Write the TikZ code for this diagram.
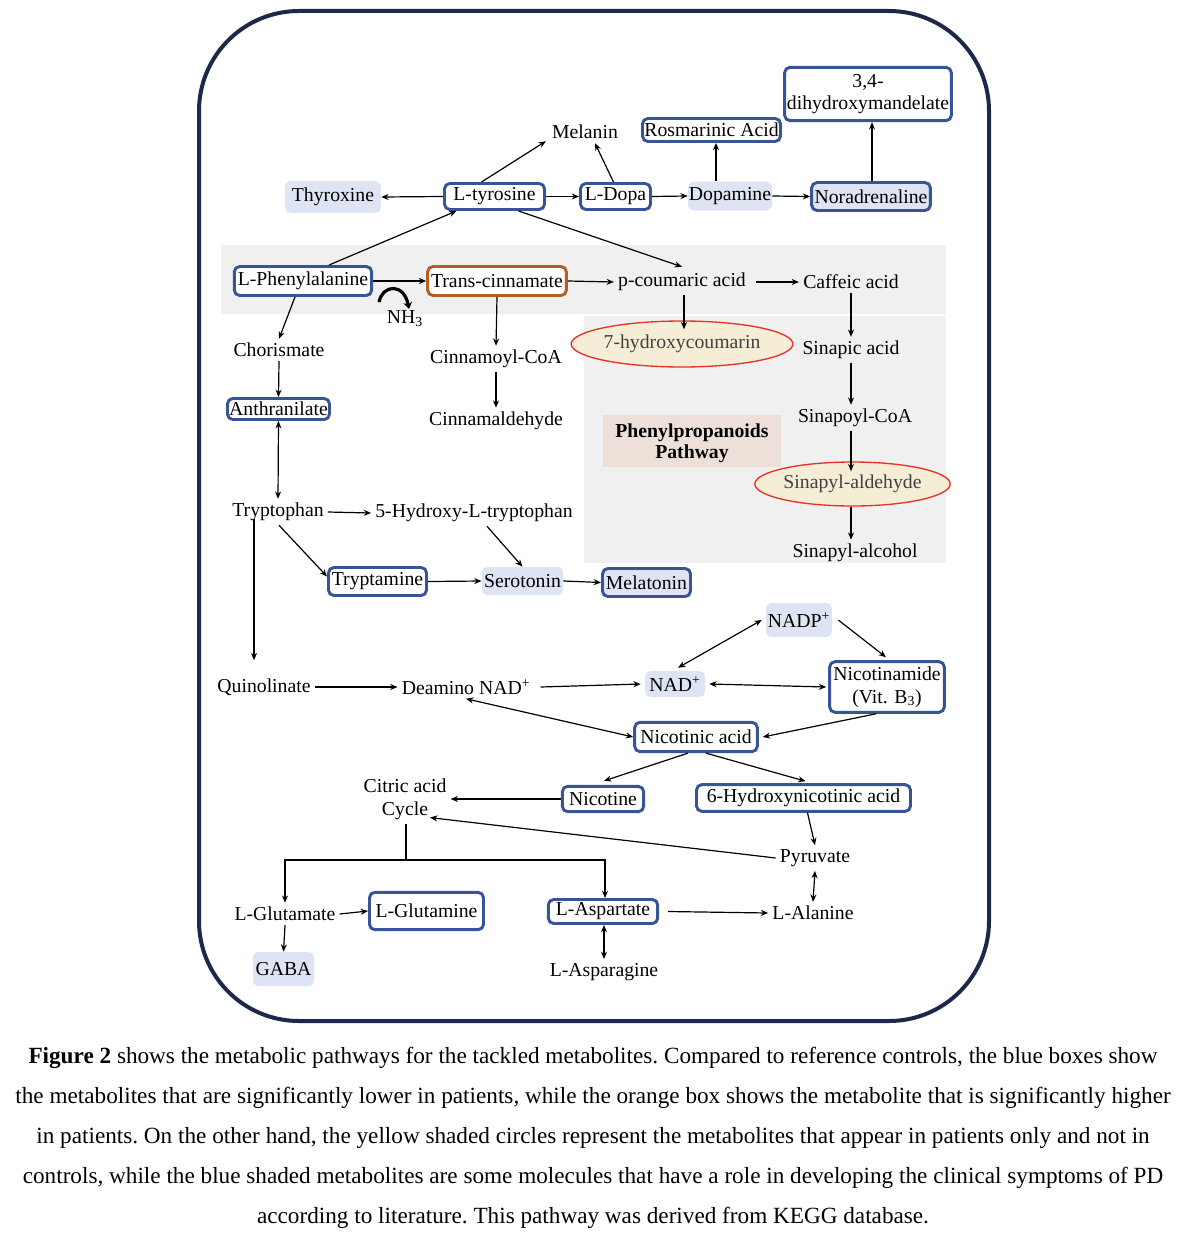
\documentclass[tikz,border=0pt]{standalone}
\usepackage{fontspec}
\setmainfont{Liberation Serif}
\usetikzlibrary{arrows.meta,shapes.geometric,calc}
\definecolor{boxblue}{RGB}{55,85,150}
\definecolor{shade}{RGB}{222,228,243}
\definecolor{orangec}{RGB}{184,92,38}
\definecolor{redc}{RGB}{230,50,40}
\definecolor{ellfill}{RGB}{245,237,214}
\definecolor{greyp}{RGB}{240,240,240}
\definecolor{tanc}{RGB}{237,224,216}
\definecolor{navy}{RGB}{30,40,75}
\newcommand\diafont{\fontsize{14.8}{17}\selectfont}
\newcommand\capfont{\fontsize{17.4}{20}\selectfont\frenchspacing}
\tikzset{
 txt/.style={font=\diafont, inner sep=3pt},
 bbox/.style={draw=boxblue, line width=2.2pt, rounded corners=4pt, fill=white, inner sep=0pt, font=\diafont},
 sbox/.style={fill=shade, rounded corners=4pt, inner sep=0pt, font=\diafont},
 bsbox/.style={bbox, fill=shade},
 obox/.style={bbox, draw=orangec},
 ell/.style={ellipse, draw=redc, line width=1pt, fill=ellfill, inner sep=0pt, font=\diafont, text=black!75},
 arr/.style={-{Stealth[length=5.5pt,width=4.5pt]}, line width=0.9pt},
 darr/.style={{Stealth[length=5.5pt,width=4.5pt]}-{Stealth[length=5.5pt,width=4.5pt]}, line width=0.9pt},
 capline/.style={font=\capfont, anchor=base, inner sep=0pt},
}
\begin{document}
\begin{tikzpicture}[x=0.75pt,y=-0.75pt]
\useasboundingbox (0,0) rectangle (1182,1238);
% frame
\draw[line width=3pt, draw=navy, rounded corners=75pt] (199,11) rectangle (989,1021);
% panels
\fill[greyp] (221,245) rectangle (946,314);
\fill[greyp] (584,316) rectangle (946,563);
\fill[tanc] (603,415) rectangle (781,467);
\node[font=\diafont\bfseries, align=center, inner sep=0pt] (ppp) at (692,443) {Phenylpropanoids\\[-1pt]Pathway};

% top row
\node[txt] (mel) at (585,132) {Melanin};
\node[bbox, minimum width=103.5pt, minimum height=17.25pt] (ros) at (711.5,130) {Rosmarinic Acid};
\node[bbox, minimum width=125pt, minimum height=40pt, align=center] (mand) at (868,94) {3,4-\\dihydroxymandelate};
\node[sbox, minimum width=72pt, minimum height=24pt] (thy) at (333,197) {Thyroxine};
\node[bbox, minimum width=75pt, minimum height=19.5pt] (tyr) at (494.5,196.5) {L-tyrosine};
\node[bbox, minimum width=52.5pt, minimum height=19.5pt] (dopa) at (615.5,196.5) {L-Dopa};
\node[sbox, minimum width=63pt, minimum height=21.75pt] (dopam) at (730,196) {Dopamine};
\node[bsbox, minimum width=89pt, minimum height=21pt] (nor) at (871,196.5) {Noradrenaline};

% phenylpropanoid band
\node[bbox, minimum width=103pt, minimum height=21.75pt] (phe) at (303,281) {L-Phenylalanine};
\node[obox, minimum width=104pt, minimum height=21.75pt] (tcin) at (497,281) {Trans-cinnamate};
\node[txt] (pcou) at (682,282) {p-coumaric acid};
\node[txt] (caf) at (851,282) {Caffeic acid};
\node[txt] (nh) at (405,319) {NH\textsubscript{3}};
\node[txt] (chor) at (279,350) {Chorismate};
\node[txt] (cinco) at (496,359) {Cinnamoyl-CoA};
\node[ell, minimum width=141pt, minimum height=34.5pt] (hyd) at (682,344) {7-hydroxycoumarin};
\node[txt] (sinap) at (851,350) {Sinapic acid};
\node[bbox, minimum width=76.5pt, minimum height=15.75pt] (anth) at (278.5,409) {Anthranilate};
\node[txt] (cinal) at (496,421) {Cinnamaldehyde};
\node[txt] (sinco) at (855,418) {Sinapoyl-CoA};
\node[ell, minimum width=142pt, minimum height=33pt] (sald) at (852.5,484) {Sinapyl-aldehyde};
\node[txt] (salc) at (855,553) {Sinapyl-alcohol};

% tryptophan
\node[txt] (trp) at (278,512) {Tryptophan};
\node[txt] (hyt) at (474,513) {5-Hydroxy-L-tryptophan};
\node[bbox, minimum width=73.5pt, minimum height=21pt] (tryp) at (377.5,581.5) {Tryptamine};
\node[sbox, minimum width=61pt, minimum height=21pt] (ser) at (522.5,581) {Serotonin};
\node[bsbox, minimum width=66pt, minimum height=21pt] (mlt) at (646.5,582.5) {Melatonin};

% NAD
\node[sbox, minimum width=49.5pt, minimum height=25.5pt] (nadp) at (799,620) {NADP\textsuperscript{+}};
\node[txt] (quin) at (264,687) {Quinolinate};
\node[txt] (dnad) at (466,687) {Deamino NAD\textsuperscript{+}};
\node[sbox, minimum width=45pt, minimum height=19.5pt] (nad) at (675,684) {NAD\textsuperscript{+}};
\node[bbox, minimum width=86pt, minimum height=38pt, align=center] (nic) at (887,687) {Nicotinamide\\(Vit. B\textsubscript{3})};
\node[bbox, minimum width=92pt, minimum height=22pt] (nac) at (696,737) {Nicotinic acid};
\node[txt, align=center] (cac) at (405,799) {Citric acid\\Cycle};
\node[bbox, minimum width=61pt, minimum height=19pt] (nicot) at (603,799) {Nicotine};
\node[bbox, minimum width=160.5pt, minimum height=20pt] (hnic) at (803.5,798) {6-Hydroxynicotinic acid};
\node[txt] (pyr) at (815,858) {Pyruvate};
\node[txt] (glu) at (285,914) {L-Glutamate};
\node[bbox, minimum width=85.5pt, minimum height=28pt] (gln) at (426.5,911) {L-Glutamine};
\node[bbox, minimum width=82pt, minimum height=18pt] (asp) at (603,911.5) {L-Aspartate};
\node[txt] (ala) at (813,913) {L-Alanine};
\node[sbox, minimum width=46pt, minimum height=25.5pt] (gaba) at (283.5,969) {GABA};
\node[txt] (aspn) at (604,972) {L-Asparagine};

% connectors top
\draw[arr] (tyr.west) -- (thy.east);
\draw[arr] (tyr.east) -- (dopa.west);
\draw[arr] ($(tyr.north)+(-13,0)$) -- ($(mel.south west)+(-2,-2)$);
\draw[arr] ($(dopa.north)+(-2,0)$) -- ($(mel.south)+(10,0)$);
\draw[arr] (dopa.east) -- (dopam.west);
\draw[arr] (dopam.east) -- (nor.west);
\draw[arr] ($(dopam.north)+(-14,0)$) -- ($(ros.south)+(4.5,0)$);
\draw[arr] ($(nor.north)+(1,0)$) -- ($(mand.south)+(4,0)$);
\draw[arr] ($(phe.north)+(26,0)$) -- ($(tyr.south)+(-38,0)$);
\draw[arr] ($(tyr.south)+(24,0)$) -- ($(pcou.north)+(0,-2)$);
% band
\draw[arr] (phe.east) -- (tcin.west);
\draw[arr] (tcin.east) -- (pcou.west);
\draw[arr] ($(pcou.east)+(6,0)$) -- (caf.west);
\coordinate (nhA) at (379,302);
\coordinate (nhB) at (409,309);
\draw[line width=2.4pt, -{Stealth[length=5pt,width=6.5pt]}] (nhA) .. controls (383,284) and (404,283) .. (nhB);
\draw[arr] ($(phe.south)+(-8,0)$) -- (chor.north);
\draw[arr] (tcin.south) -- (cinco.north);
\draw[arr] (cinco.south) -- (cinal.north);
\draw[arr] ($(pcou.south)+(2,0)$) -- ($(hyd.north)+(2,9)$);
\draw[arr] (caf.south) -- (sinap.north);
\draw[arr] (sinap.south) -- ($(sinco.north)+(-4,0)$);
\draw[arr] ($(sinco.south)+(-4,0)$) -- ($(sald.north)+(-1.5,10)$);
\draw[arr] ($(sald.south)+(-1.5,0)$) -- ($(salc.north)+(-4,0)$);
\draw[arr] (chor.south) -- (anth.north);
\draw[darr] (anth.south) -- (trp.north);
% tryptophan
\draw[arr] (trp.east) -- (hyt.west);
\draw[arr] ($(hyt.south)+(13,0)$) -- (ser.north);
\draw[arr] ($(trp.south)+(1,0)$) -- ($(tryp.west)+(0,-5)$);
\draw[arr] (tryp.east) -- (ser.west);
\draw[arr] (ser.east) -- (mlt.west);
\draw[arr] ($(trp.south)+(-24,-6)$) -- ($(quin.north)+(-10,-14)$);
% NAD
\draw[arr] (quin.east) -- (dnad.west);
\draw[arr] ($(dnad.east)+(6,0)$) -- ($(nad.west)+(-4,0)$);
\draw[darr] ($(nad.north)+(3,-3)$) -- ($(nadp.west)+(-4,0)$);
\draw[arr] ($(nadp.east)+(6,0)$) -- ($(nic.north)+(-1,-3)$);
\draw[darr] ($(nad.east)+(4,0)$) -- ($(nic.west)+(-2,0)$);
\draw[arr] ($(nic.south)+(-11,0)$) -- ($(nac.east)+(4,0)$);
\draw[darr] (dnad.south) -- (nac.west);
\draw[arr] ($(nac.south)+(-8,0)$) -- ($(nicot.north)+(1,-4)$);
\draw[arr] ($(nac.south)+(10,0)$) -- ($(hnic.north)+(2,-2)$);
\draw[arr] (nicot.west) -- (cac.east);
\draw[arr] ($(hnic.south)+(4,0)$) -- (pyr.north);
\draw[arr] (pyr.west) -- ($(cac.south)+(25,-6)$);
\coordinate (split) at (406,860);
\draw[line width=0.9pt] ($(cac.south)+(1,0)$) -- (split);
\draw[arr] (split) -| (glu.north);
\draw[arr] (split) -| ($(asp.north)+(2,0)$);
\draw[arr] (glu.east) -- (gln.west);
\draw[arr] (glu.south) -- (gaba.north);
\draw[darr] ($(asp.south)+(1,0)$) -- ($(aspn.north)+(0,0)$);
\draw[arr] ($(asp.east)+(9,0)$) -- (ala.west);
\draw[darr] (pyr.south) -- (ala.north);

% caption
\node[capline] (c1) at (593,1063) {\textbf{Figure 2} shows the metabolic pathways for the tackled metabolites. Compared to reference controls, the blue boxes show};
\node[capline] (c2) at (593,1103) {the metabolites that are significantly lower in patients, while the orange box shows the metabolite that is significantly higher};
\node[capline] (c3) at (593,1143) {in patients. On the other hand, the yellow shaded circles represent the metabolites that appear in patients only and not in};
\node[capline] (c4) at (593,1183) {controls, while the blue shaded metabolites are some molecules that have a role in developing the clinical symptoms of PD};
\node[capline] (c5) at (593,1223) {according to literature. This pathway was derived from KEGG database.};
\end{tikzpicture}
\end{document}
